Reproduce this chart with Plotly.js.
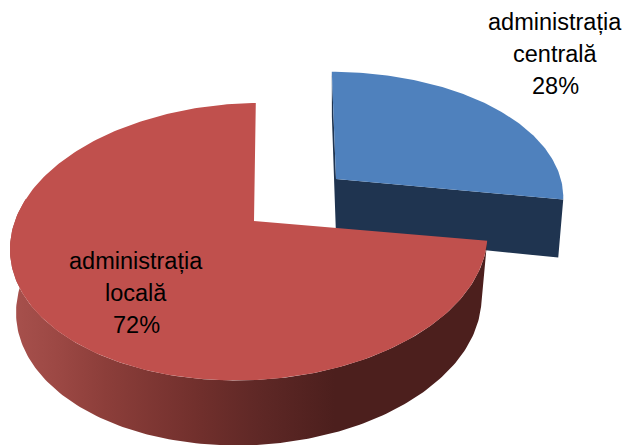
<!DOCTYPE html>
<html><head><meta charset="utf-8">
<script src="https://cdn.plot.ly/plotly-3.0.1.min.js"></script>
<style>html,body{margin:0;padding:0;background:#fff}#c{width:625px;height:445px}</style>
</head><body><div id="c"></div>
<script>
const categories = [["administrația","centrală"], ["administrația","locală"]];
const values = [28, 72];
const topColors = ["#4F81BD", "#C0504D"];
const wallColors = ["#1F3450", "#4C1F1D"];
const redWallScale = [[0,"#A8514D"],[0.1,"#9C4844"],[0.2,"#8C3E3A"],[0.4,"#702F2C"],[0.52,"#5F2826"],[0.68,"#4C1F1D"],[1,"#4C1F1D"]];
const labelPos = [[555,22],[136,261]];
const lineGap = 32;

// view parameters of the tilted pie: one projection per slice, because the chart's slices are exploded
const views = [
  {ax:336, ay:179, rx:230, ry:123, k:0.148, j:0.023, rot:-1.2, tilt:0, wallA:56, wallB:0.1, wallF:0.978},
  {ax:254, ay:221, rx:236, ry:135.5, k:0.148, j:0.022, rot:0.5, tilt:7, wallA:63, wallB:0.0126, wallF:0.975}
];
function proj(v, deg){
  const t=(deg+v.rot)*Math.PI/180, u=Math.sin(t), w=Math.cos(t), s=1/(1+v.k*w+v.j*u);
  return [v.ax+v.rx*u*s, v.ay-v.ry*w*s-v.tilt*u*s];
}
function lower(v,p){
  return [v.ax+(p[0]-v.ax)*v.wallF, p[1]+v.wallA+v.wallB*(p[1]-v.ay)];
}
function arc(v,a,b){
  const out=[], n=Math.max(2,Math.round(Math.abs(b-a)));
  for(let i=0;i<=n;i++) out.push(proj(v,a+(b-a)*i/n));
  return out;
}
const total=values.reduce((a,b)=>a+b,0);
const spans=[]; let acc=0;
values.forEach(x=>{const a=acc/total*360; acc+=x; spans.push([a,acc/total*360]);});

function poly(points,color,extra){
  return Object.assign({type:"scatter",mode:"lines",x:points.map(p=>p[0]),y:points.map(p=>p[1]),
    fill:"toself",fillcolor:color,line:{width:0,color:color},hoverinfo:"skip",showlegend:false},extra||{});
}
const traces=[];
// blue: cut faces, then top
{
  const v=views[0], A=[v.ax,v.ay], P=proj(v,spans[0][0]), Q=proj(v,spans[0][1]);
  traces.push(poly([P,A,Q,lower(v,Q),lower(v,A),lower(v,P),P],wallColors[0]));
  traces.push(poly([A,...arc(v,spans[0][0],spans[0][1]),A],topColors[0]));
}
// red: outer wall, then top
{
  const v=views[1], A=[v.ax,v.ay];
  const a=arc(v,spans[1][0],282), b=a.map(p=>lower(v,p)).reverse();
  const pts=[...a,...b,a[0]];
  const xs=pts.map(p=>p[0]);
  traces.push(poly(pts,wallColors[1],{fillgradient:{type:"horizontal",colorscale:redWallScale,start:Math.min(...xs),stop:Math.max(...xs)}}));
  traces.push(poly([A,...arc(v,spans[1][0],spans[1][1]),A],topColors[1]));
}
const annotations=[];
categories.forEach((lines,i)=>{
  [...lines,values[i]+"%"].forEach((t,n)=>annotations.push({
    x:labelPos[i][0],y:labelPos[i][1]+n*lineGap,xref:"x",yref:"y",showarrow:false,xanchor:"center",yanchor:"middle",align:"center",
    text:t,font:{family:"Liberation Sans, Arial, sans-serif",size:23.5,color:"#000"}
  }));
});
Plotly.newPlot("c",traces,{
  width:625,height:445,margin:{l:0,r:0,t:0,b:0},paper_bgcolor:"#fff",plot_bgcolor:"#fff",showlegend:false,
  xaxis:{range:[0,625],visible:false,fixedrange:true},
  yaxis:{range:[445,0],visible:false,fixedrange:true},
  annotations:annotations
},{displayModeBar:false,staticPlot:true});
</script></body></html>
